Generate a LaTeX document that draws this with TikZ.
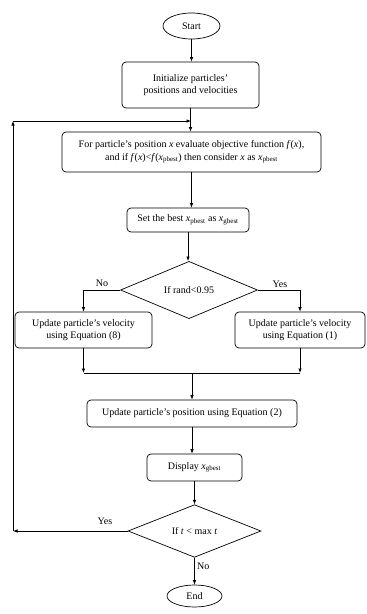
\documentclass[tikz,border=0pt]{standalone}
\usepackage{fontspec}
\setmainfont{Liberation Serif}
\usetikzlibrary{shapes.geometric,arrows.meta}
\newcommand{\xs}[1]{\textit{x}\textsubscript{#1}}
\begin{document}
\begin{tikzpicture}[x=1pt,y=-1pt,
  every node/.style={font=\fontsize{10}{12.3}\selectfont},
  box/.style={draw,rounded corners=4pt,align=center,inner sep=0pt,line width=0.7pt},
  term/.style={draw,ellipse,inner sep=0pt,line width=0.7pt},
  dec/.style={draw,diamond,inner sep=0pt,line width=0.7pt},
  arr/.style={-{Latex[length=4.5pt,width=3.5pt]},line width=0.7pt},
  ln/.style={line width=0.7pt},
  lbl/.style={inner sep=0pt}]
\useasboundingbox (0,0) rectangle (367,614);

\node[term,minimum width=57pt,minimum height=26pt] (start) at (191.5,26) {Start};
\node[box,minimum width=137pt,minimum height=46pt] (init) at (190.5,85) {Initialize particles'\\positions and velocities};
\node[box,minimum width=259pt,minimum height=40pt] (eval) at (191.5,152) {For particle's position \textit{x} evaluate objective function \textit{f}(\textit{x}),\\and if \textit{f}(\textit{x})<\textit{f}(\xs{pbest}) then consider \textit{x} as \xs{pbest}};
\node[box,minimum width=122pt,minimum height=24pt] (best) at (188,220) {Set the best \xs{pbest} as \xs{gbest}};
\node[dec,minimum width=137pt,minimum height=46pt] (d1) at (189,290) {If rand<0.95};
\node[box,minimum width=137pt,minimum height=36pt] (v8) at (83.5,330) {Update particle's velocity\\using Equation (8)};
\node[box,minimum width=130pt,minimum height=36pt] (v1) at (300,330) {Update particle's velocity\\using Equation (1)};
\node[box,minimum width=210pt,minimum height=27pt] (pos) at (192,413.5) {Update particle's position using Equation (2)};
\node[box,minimum width=95pt,minimum height=27pt] (disp) at (194.5,467.5) {Display \xs{gbest}};
\node[dec,minimum width=133pt,minimum height=44pt] (d2) at (194.5,531) {If \textit{t} < max \textit{t}};
\node[term,minimum width=55pt,minimum height=22pt] (end) at (194.5,596) {End};

\node[lbl] (lno1) at (102,283) {No};
\node[lbl] (lyes1) at (280,284) {Yes};
\node[lbl] (lyes2) at (105,521) {Yes};
\node[lbl,anchor=west] (lno2) at (197,566) {No};

\coordinate (lb) at (13,531);
\coordinate (lt) at (13,121);
\coordinate (lj) at (191,121);
\coordinate (m1) at (83.5,373);
\coordinate (m2) at (300,373);
\coordinate (m3) at (192,373);

\draw[arr] (start) -- (start.south |- init.north);
\draw[arr] (init.south) -- (init.south |- eval.north);
\draw[arr] (d2.west) -- (lb);
\draw[arr] (lb) -- (lt);
\draw[arr] (lt) -- (lj);
\draw[arr] (eval.south) -- (eval.south |- best.north);
\draw[arr] (best.south) -- (best.south |- d1.north);
\draw[arr] (d1.west) -| (v8.north);
\draw[arr] (d1.east) -| (v1.north);
\draw[arr] (v8.south) -- (m1);
\draw[arr] (v1.south) -- (m2);
\draw[ln] (m1) -- (m2);
\draw[arr] (m3) -- (pos.north);
\draw[arr] (pos.south) -- (pos.south |- disp.north);
\draw[arr] (disp.south) -- (d2.north);
\draw[arr] (d2.south) -- (end.north);
\end{tikzpicture}
\end{document}
